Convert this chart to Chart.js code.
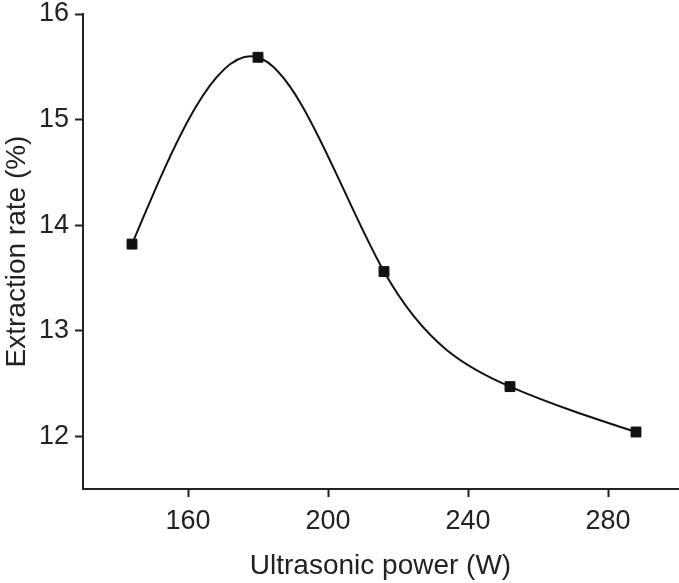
<!DOCTYPE html>
<html>
<head>
<meta charset="utf-8">
<script src="https://cdn.jsdelivr.net/npm/chart.js@4/dist/chart.umd.min.js"></script>
<style>
  body { margin: 0; background: #fff; }
  #wrap { width: 679px; height: 583px; }
</style>
</head>
<body>
<div id="wrap"><canvas id="chart" width="679" height="583"></canvas></div>
<script>
// Extraction rate vs ultrasonic power
const powers = [144, 180, 216, 252, 288];
const rates = [13.82, 15.59, 13.56, 12.47, 12.04];
const xTicks = [160, 200, 240, 280];
const yTicks = [12, 13, 14, 15, 16];

const ink = '#222';
const font = 'Liberation Sans, Arial, sans-serif';

// natural cubic spline through the drawn points (like the original plotting software)
const naturalSpline = {
    id: 'naturalSpline',
    beforeDatasetDraw(chart, args) {
        const meta = args.meta;
        meta.dataset.updateControlPoints(chart.chartArea, meta.indexAxis);
        const pts = meta.data;
        const n = pts.length;
        if (n < 3) return;
        const h = [], M = new Array(n).fill(0);
        for (let i = 0; i < n - 1; i++) h.push(pts[i + 1].x - pts[i].x);
        // tridiagonal system for second derivatives, M[0] = M[n-1] = 0
        const a = [], b = [], c = [], d = [];
        for (let i = 1; i < n - 1; i++) {
            a.push(h[i - 1]);
            b.push(2 * (h[i - 1] + h[i]));
            c.push(h[i]);
            d.push(6 * ((pts[i + 1].y - pts[i].y) / h[i] - (pts[i].y - pts[i - 1].y) / h[i - 1]));
        }
        const m = b.length;
        for (let i = 1; i < m; i++) {
            const w = a[i] / b[i - 1];
            b[i] -= w * c[i - 1];
            d[i] -= w * d[i - 1];
        }
        const sol = new Array(m);
        sol[m - 1] = d[m - 1] / b[m - 1];
        for (let i = m - 2; i >= 0; i--) sol[i] = (d[i] - c[i] * sol[i + 1]) / b[i];
        for (let i = 0; i < m; i++) M[i + 1] = sol[i];
        for (let i = 0; i < n - 1; i++) {
            const p = pts[i], q = pts[i + 1], hi = h[i];
            const s = (q.y - p.y) / hi;
            const d0 = s - hi * (2 * M[i] + M[i + 1]) / 6;
            const d1 = s + hi * (M[i] + 2 * M[i + 1]) / 6;
            p.cp2x = p.x + hi / 3;
            p.cp2y = p.y + d0 * hi / 3;
            q.cp1x = q.x - hi / 3;
            q.cp1y = q.y - d1 * hi / 3;
        }
    }
};

new Chart(document.getElementById('chart'), {
    type: 'line',
    data: {
        datasets: [{
            data: powers.map((p, i) => ({ x: p, y: rates[i] })),
            borderColor: '#111',
            borderWidth: 2,
            tension: 0.4,
            pointStyle: 'rect',
            pointRadius: 7,
            pointBorderWidth: 1,
            pointBackgroundColor: '#111',
            pointBorderColor: '#111',
            fill: false
        }]
    },
    options: {
        responsive: false,
        animation: false,
        layout: { autoPadding: false, padding: { top: 14, right: 1, left: 0, bottom: 0 } },
        plugins: {
            legend: { display: false },
            tooltip: { enabled: false }
        },
        scales: {
            x: {
                type: 'linear',
                min: 130,
                max: 300,
                afterBuildTicks: axis => { axis.ticks = xTicks.map(v => ({ value: v })); },
                afterFit: axis => {
                    axis.height = 94;
                    axis.paddingLeft = 0;
                    axis.paddingRight = 0;
                },
                grid: { drawOnChartArea: false, tickLength: 8, tickWidth: 2, color: ink },
                border: { color: ink, width: 2 },
                ticks: { color: ink, font: { family: font, size: 27 }, padding: 8, maxRotation: 0 },
                title: { display: true, text: 'Ultrasonic power (W)', color: ink,
                         font: { family: font, size: 28 }, padding: { top: 4, bottom: 0 } }
            },
            y: {
                min: 11.5,
                max: 16,
                afterBuildTicks: axis => { axis.ticks = yTicks.map(v => ({ value: v })); },
                afterFit: axis => {
                    axis.width = 83;
                    axis.paddingTop = 0;
                    axis.paddingBottom = 0;
                },
                grid: { drawOnChartArea: false, tickLength: 8, tickWidth: 2, color: ink },
                border: { color: ink, width: 2 },
                ticks: { color: ink, font: { family: font, size: 27 }, padding: 6 },
                title: { display: true, text: 'Extraction rate (%)', color: ink,
                         font: { family: font, size: 28 }, padding: { top: 0, bottom: 0 } }
            }
        }
    },
    plugins: [naturalSpline]
});
</script>
</body>
</html>
